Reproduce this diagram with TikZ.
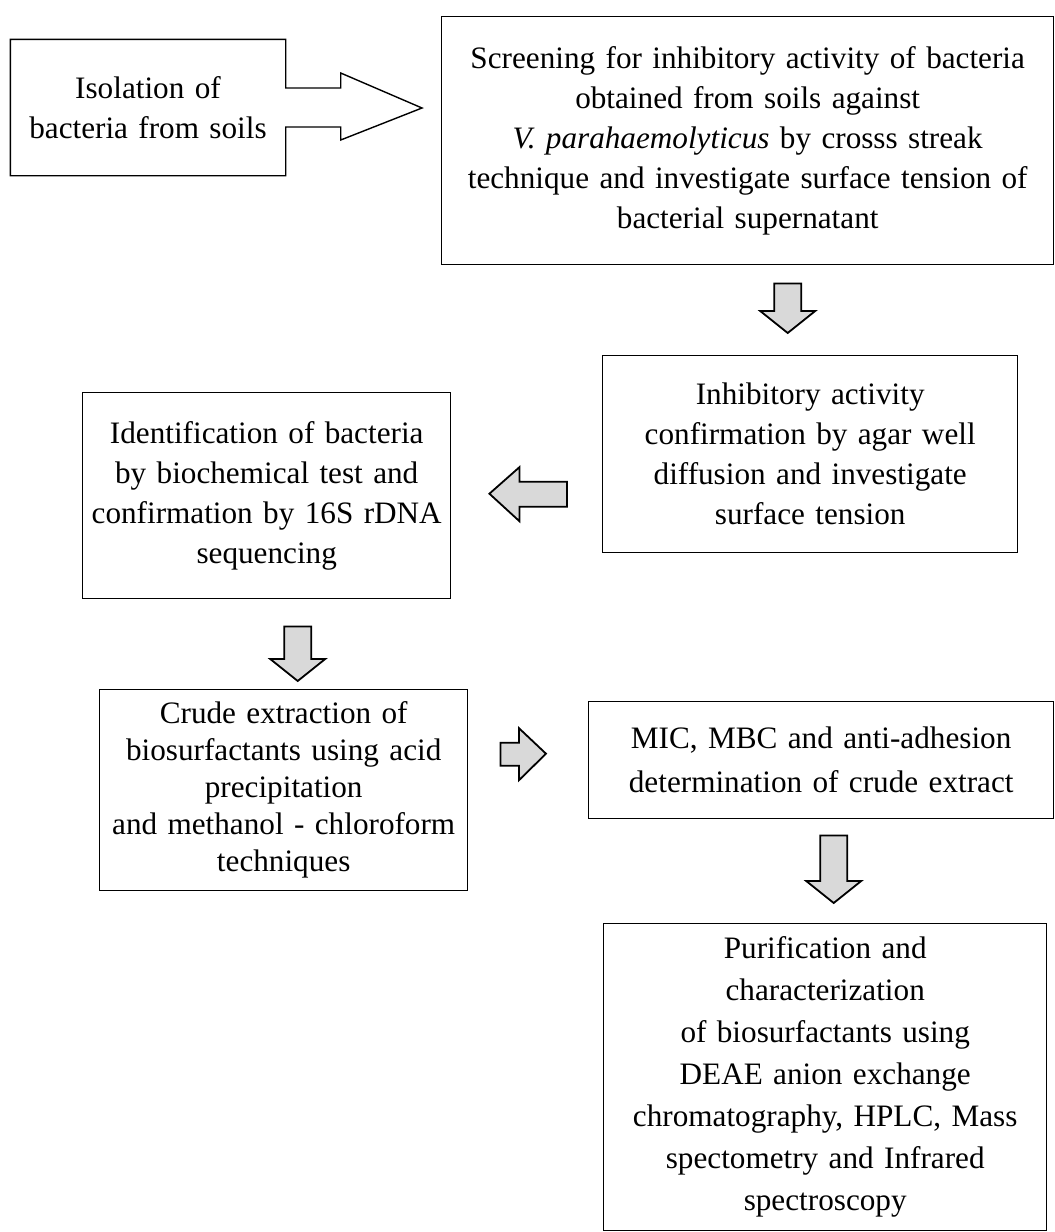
\documentclass[tikz,border=0pt]{standalone}
\usepackage{fontspec}
\setmainfont{Liberation Serif}
\usetikzlibrary{calc}
\definecolor{arrgray}{RGB}{217,217,217}
\tikzset{
  box/.style   = {draw, rectangle, align=center, inner sep=0pt, line width=0.7pt,
                  anchor=north west, font=\fontsize{15.6}{20}\selectfont},
  outl/.style  = {draw, line width=0.7pt, line join=miter},
  garr/.style  = {draw, line width=0.9pt, fill=arrgray, line join=miter},
  dnarr/.style = {to path={let \p1=(\tikztostart), \p2=(\tikztotarget) in
                  (\x1-6.75pt,\y1) -- (\x1+6.75pt,\y1) -- (\x1+6.75pt,\y2+11pt)
                  -- (\x1+13.75pt,\y2+11pt) -- (\x2,\y2) -- (\x1-13.75pt,\y2+11pt)
                  -- (\x1-6.75pt,\y2+11pt) -- cycle}},
  lfarr/.style = {to path={let \p1=(\tikztostart), \p2=(\tikztotarget) in
                  (\x1,\y1+6.25pt) -- (\x1,\y1-6.25pt) -- (\x2+15pt,\y1-6.25pt)
                  -- (\x2+15pt,\y1-13.5pt) -- (\x2,\y2) -- (\x2+15pt,\y1+13.5pt)
                  -- (\x2+15pt,\y1+6.25pt) -- cycle}},
  rtarr/.style = {to path={let \p1=(\tikztostart), \p2=(\tikztotarget) in
                  (\x1,\y1+5.75pt) -- (\x1,\y1-5.75pt) -- (\x2-13.5pt,\y1-5.75pt)
                  -- (\x2-13.5pt,\y1-13pt) -- (\x2,\y2) -- (\x2-13.5pt,\y1+13pt)
                  -- (\x2-13.5pt,\y1+5.75pt) -- cycle}},
}

\begin{document}
\begin{tikzpicture}[x=0.5pt, y=-0.5pt]
  \useasboundingbox (0,0) rectangle (1055,1232);

  % boxes
  \node[box, draw=none, anchor=center, minimum width=137pt, minimum height=67.5pt,
        text width=134pt] (iso) at (148,107.5) {Isolation of\\bacteria from soils};
  \node[box, minimum width=306pt, minimum height=124pt, text width=302pt] (scr) at (441,16)
    {Screening for inhibitory activity of bacteria\\obtained from soils against\\
     \textit{V. parahaemolyticus} by crosss streak\\technique and investigate surface tension of\\
     bacterial supernatant};
  \node[box, minimum width=207.5pt, minimum height=98.5pt, text width=203pt] (inh) at (602,355)
    {Inhibitory activity\\confirmation by agar well\\diffusion and investigate\\surface tension};
  \node[box, minimum width=184pt, minimum height=103pt, text width=180pt] (idn) at (82,392)
    {Identification of bacteria\\by biochemical test and\\confirmation by 16S rDNA\\sequencing};
  \node[box, minimum width=184pt, minimum height=100.5pt, text width=180pt,
        font=\fontsize{15.6}{18.5}\selectfont] (crd) at (99,689)
    {Crude extraction of\\biosurfactants using acid\\precipitation\\and methanol - chloroform\\techniques};
  \node[box, minimum width=232.5pt, minimum height=58.5pt, text width=228pt,
        font=\fontsize{15.6}{22}\selectfont] (mic) at (588,701)
    {MIC, MBC and anti-adhesion\\determination of crude extract};
  \node[box, minimum width=221.5pt, minimum height=153.5pt, text width=217pt,
        font=\fontsize{15.6}{21}\selectfont] (pur) at (603,923)
    {Purification and\\characterization\\of biosurfactants using\\DEAE anion exchange\\
     chromatography, HPLC, Mass\\spectometry and Infrared\\spectroscopy};

  % arrow ends
  \coordinate (istip) at ($(scr.north west)+(-19,92)$);
  \coordinate (a1s) at ($(scr.south)+(40,18)$);
  \coordinate (a1t) at ($(inh.north)+(-22.5,-22)$);
  \coordinate (a2s) at ($(inh.west)+(-35,40)$);
  \coordinate (a2t) at ($(idn.east)+(38,-2)$);
  \coordinate (a3s) at ($(idn.south)+(31,27)$);
  \coordinate (a3t) at ($(crd.north)+(14,-8)$);
  \coordinate (a4s) at ($(crd.east)+(32,-36)$);
  \coordinate (a4t) at ($(mic.west)+(-42,-6.5)$);
  \coordinate (a5s) at ($(mic.south)+(12.5,16)$);
  \coordinate (a5t) at ($(pur.north)+(8.5,-20)$);

  % box with outline arrow
  \draw[outl] ($(iso.east)+(0,-19.5)$) -- (iso.north east) -- (iso.north west)
    -- (iso.south west) -- (iso.south east) -- ($(iso.east)+(0,19.5)$)
    -- ++(55,0) -- ++(0,13) -- (istip) -- ($(iso.east)+(55,-34.5)$)
    -- ++(0,15) -- cycle;

  % grey arrows
  \draw[garr] (a1s) to[dnarr] (a1t);
  \draw[garr] (a2s) to[lfarr] (a2t);
  \draw[garr] (a3s) to[dnarr] (a3t);
  \draw[garr] (a4s) to[rtarr] (a4t);
  \draw[garr] (a5s) to[dnarr] (a5t);
\end{tikzpicture}
\end{document}
